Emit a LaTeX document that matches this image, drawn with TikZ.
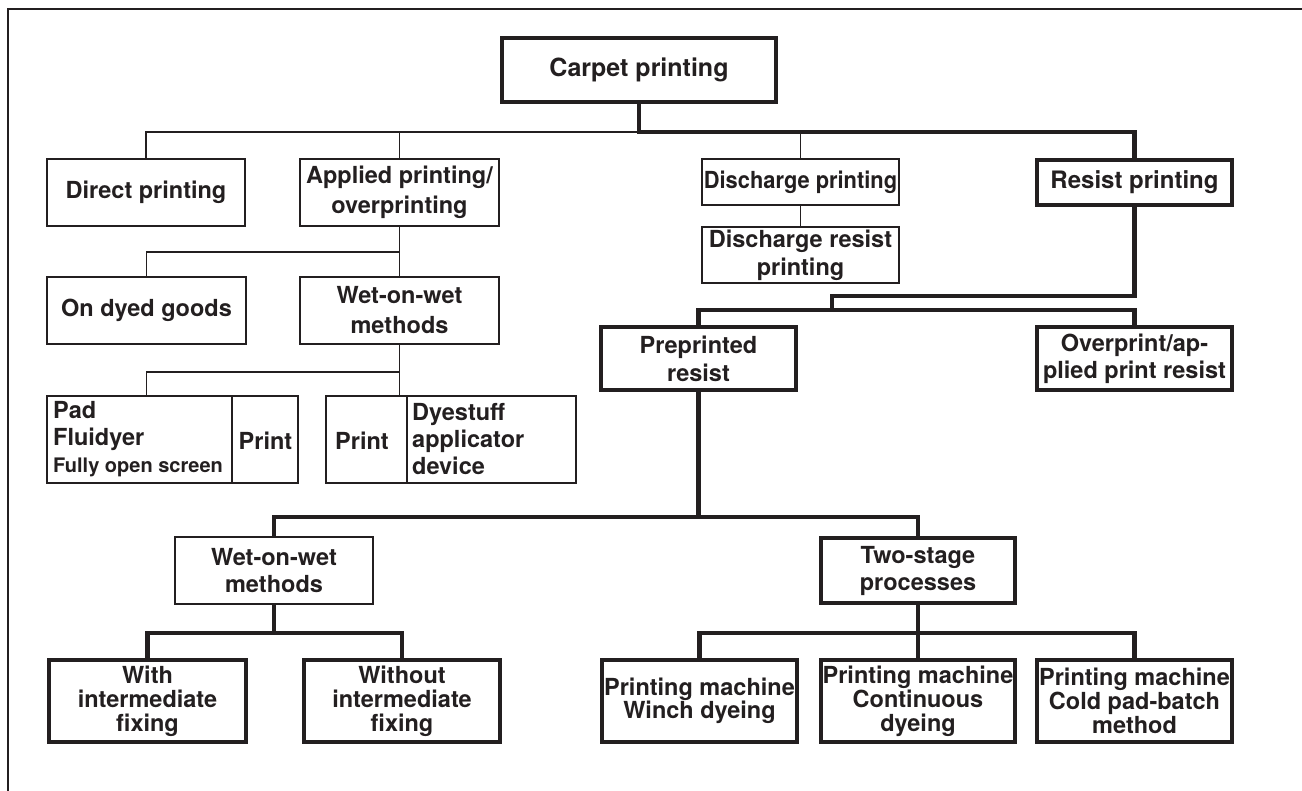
\documentclass[tikz,border=0pt]{standalone}
\usepackage{fontspec}
\setmainfont{TeX Gyre Heros}
\definecolor{ink}{RGB}{35,31,32}
\begin{document}
\begin{tikzpicture}[x=1pt,y=-1pt,
  box/.style={draw=ink, line width=1.6pt, text=ink, align=center, inner sep=1pt,
              font=\bfseries\fontsize{23.5}{28}\selectfont},
  thickbox/.style={box, line width=4.2pt},
  thinline/.style={draw=ink, line width=1.6pt},
  thickline/.style={draw=ink, line width=4.2pt},
  label/.style={text=ink, inner sep=0pt, font=\bfseries\fontsize{23.5}{27}\selectfont},
]
\useasboundingbox (0,0) rectangle (1302,791);
\fill[white] (0,0) rectangle (1302,791);

% outer frame (top and left rules)
\draw[ink, line width=2pt] (8,791) -- (8,9) -- (1302,9);

% ---------- level 0 and 1 ----------
\node[thickbox, minimum width=274pt, minimum height=64pt,
      font=\bfseries\fontsize{25}{28}\selectfont] (carpet) at (639,70) {Carpet printing};

\node[box, minimum width=198pt, minimum height=67pt] (direct) at (146,192.5) {Direct printing};
\node[box, minimum width=199pt, minimum height=67pt,
      font=\bfseries\fontsize{23.5}{30}\selectfont] (applied) at (399.5,192.5) {Applied printing/\\overprinting};
\node[box, minimum width=197pt, minimum height=46pt] (discharge) at (800.5,182)
      {\scalebox{0.93}[1]{Discharge printing}};
\node[thickbox, minimum width=195pt, minimum height=45pt,
      font=\bfseries\fontsize{24}{28}\selectfont] (resist) at (1134.5,182.5) {Resist printing};

\node[box, minimum width=197pt, minimum height=56pt] (dresist) at (800.5,255) {Discharge resist\\printing};

% ---------- applied printing branch ----------
\node[box, minimum width=199pt, minimum height=67pt] (ondyed) at (146.5,310.5) {On dyed goods};
\node[box, minimum width=199pt, minimum height=67pt,
      font=\bfseries\fontsize{23.5}{30}\selectfont] (wetup) at (399.5,310.5) {Wet-on-wet\\methods};

\node[box, minimum width=251pt, minimum height=87pt] (pad) at (172.5,439.5) {};
\node[box, minimum width=250pt, minimum height=87pt] (printdye) at (451,439.5) {};
\coordinate (padsplit) at (232,0);
\coordinate (dyesplit) at (407,0);
\draw[thinline] (pad.north -| padsplit) -- (pad.south -| padsplit);
\draw[thinline] (printdye.north -| dyesplit) -- (printdye.south -| dyesplit);

\node[label, anchor=west, align=left] (padtext) at (53,439.5)
  {Pad\\Fluidyer\\{\fontsize{20}{24}\selectfont Fully open screen}};
\node[label] (print1) at (265.5,441) {Print};
\node[label] (print2) at (362,441) {Print};
\node[label, anchor=west, align=left] (dyetext) at (412,439.5) {Dyestuff\\applicator\\device};

% ---------- resist printing branch ----------
\node[thickbox, minimum width=195pt, minimum height=63pt] (preprinted) at (698.5,358.5) {Preprinted\\resist};
\node[thickbox, minimum width=195pt, minimum height=63pt,
      font=\bfseries\fontsize{23.5}{27}\selectfont] (overprint) at (1134.5,358.5) {Overprint/ap-\\plied print resist};

\node[box, minimum width=198pt, minimum height=67pt,
      font=\bfseries\fontsize{23.5}{27}\selectfont] (wetlow) at (274,570.5) {Wet-on-wet\\methods};
\node[thickbox, minimum width=194pt, minimum height=65pt,
      font=\bfseries\fontsize{23.5}{27}\selectfont] (twostage) at (918,570.5) {Two-stage\\processes};

\node[thickbox, minimum width=197pt, minimum height=82pt,
      font=\bfseries\fontsize{23.5}{24}\selectfont] (with) at (147.5,701) {With\\intermediate\\fixing};
\node[thickbox, minimum width=196pt, minimum height=82pt,
      font=\bfseries\fontsize{23.5}{24}\selectfont] (without) at (402,701) {Without\\intermediate\\fixing};
\node[thickbox, minimum width=195pt, minimum height=82pt,
      font=\bfseries\fontsize{23.5}{23}\selectfont] (winch) at (699.5,701) {Printing machine\\Winch dyeing};
\node[thickbox, minimum width=194pt, minimum height=82pt,
      font=\bfseries\fontsize{23.5}{24}\selectfont] (continuous) at (918,701) {Printing machine\\Continuous\\dyeing};
\node[thickbox, minimum width=195pt, minimum height=82pt,
      font=\bfseries\fontsize{23.5}{24}\selectfont] (cold) at (1134.5,701) {Printing machine\\Cold pad-batch\\method};

% ---------- connector levels ----------
\coordinate (y132) at (0,132);
\coordinate (y252) at (0,252);
\coordinate (y372) at (0,372);
\coordinate (y296) at (0,296);
\coordinate (y310) at (0,310);
\coordinate (y517) at (0,517);
\coordinate (y633) at (0,633);
\coordinate (resjog) at (832,0);

% carpet printing to its four kinds
\draw[thinline] (carpet.south |- y132) -| (direct.north);
\draw[thinline] (applied.north) -- (applied.north |- y132);
\draw[thinline] (discharge.north) -- (discharge.north |- y132);
\draw[thickline] (carpet.south) -- (carpet.south |- y132) -| (resist.north);
\draw[thinline] (discharge.south) -- (dresist.north);

% applied printing subtree
\draw[thinline] (applied.south) -- (applied.south |- y252);
\draw[thinline] (ondyed.north) |- (wetup.north |- y252) -- (wetup.north);
\draw[thinline] (wetup.south) -- (wetup.south |- printdye.north);
\draw[thinline] (wetup.south |- y372) -| (pad.north -| ondyed.south);

% resist printing subtree
\draw[thickline] (resist.south) |- (resjog |- y296) -- (resjog |- y310);
\draw[thickline] (preprinted.north) |- (overprint.north |- y310) -- (overprint.north);
\draw[thickline] (preprinted.south) -- (preprinted.south |- y517);
\draw[thickline] (wetlow.north) |- (twostage.north |- y517) -- (twostage.north);

\draw[thickline] (wetlow.south) -- (wetlow.south |- y633);
\draw[thickline] (with.north) |- (without.north |- y633) -- (without.north);

\draw[thickline] (twostage.south) -- (twostage.south |- y633);
\draw[thickline] (winch.north) |- (cold.north |- y633) -- (cold.north);
\draw[thickline] (continuous.north) -- (continuous.north |- y633);
\end{tikzpicture}
\end{document}
